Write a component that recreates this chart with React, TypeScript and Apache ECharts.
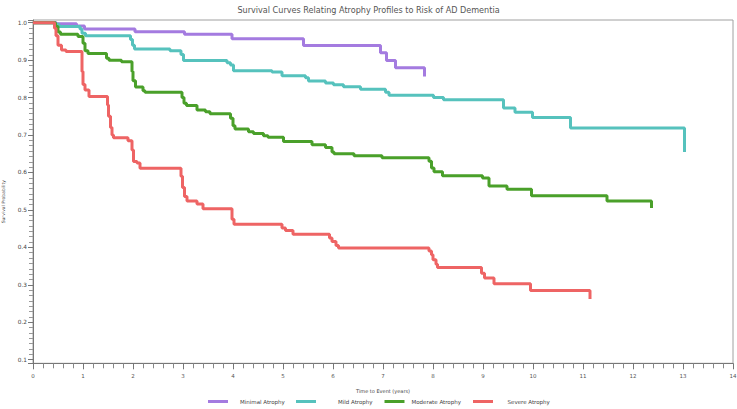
import React, { useEffect, useRef } from "react";
import * as echarts from "echarts";

const titleText = "Survival Curves Relating Atrophy Profiles to Risk of AD Dementia";
const seriesNames = ["Minimal Atrophy", "Mild Atrophy", "Moderate Atrophy", "Severe Atrophy"];
const seriesColors = ["#a47be0", "#56c2bd", "#4aa02a", "#ee6464"];

const minimalT = [0, 0.47, 0.87, 1.03, 2.04, 3.03, 3.98, 5.41, 6.95, 7.07, 7.25, 7.83];
const minimalS = [1, 0.997, 0.991, 0.983, 0.976, 0.969, 0.957, 0.939, 0.92, 0.899, 0.88, 0.856];

const mildT = [0, 0.44, 0.52, 0.94, 0.98, 1.05, 1.95, 1.99, 2.03, 2.74, 2.96, 3.01, 3.88, 3.95, 4.01, 4.78, 4.98, 5.45, 5.51, 5.85, 6.01, 6.21, 6.55, 7.05, 7.12, 8.01, 8.21, 9.41, 9.64, 9.99, 10.75, 13.03];
const mildS = [1, 0.996, 0.99, 0.983, 0.972, 0.965, 0.955, 0.94, 0.93, 0.925, 0.915, 0.899, 0.893, 0.887, 0.872, 0.868, 0.858, 0.853, 0.844, 0.839, 0.834, 0.829, 0.822, 0.814, 0.806, 0.8, 0.794, 0.772, 0.761, 0.747, 0.719, 0.655];

const moderateT = [0, 0.45, 0.5, 0.55, 0.9, 1.0, 1.04, 1.1, 1.47, 1.52, 1.77, 1.98, 2.0, 2.05, 2.2, 2.24, 2.98, 3.02, 3.07, 3.28, 3.45, 3.54, 3.95, 4.0, 4.04, 4.31, 4.41, 4.61, 4.7, 5.01, 5.58, 5.85, 5.98, 6.02, 6.42, 6.98, 7.92, 7.97, 8.02, 8.19, 8.99, 9.12, 9.48, 9.97, 11.48, 12.37];
const moderateS = [1, 0.99, 0.975, 0.969, 0.963, 0.945, 0.925, 0.918, 0.905, 0.9, 0.896, 0.87, 0.845, 0.828, 0.818, 0.814, 0.8, 0.785, 0.779, 0.767, 0.762, 0.757, 0.745, 0.725, 0.716, 0.709, 0.704, 0.698, 0.694, 0.683, 0.674, 0.667, 0.655, 0.65, 0.645, 0.639, 0.63, 0.612, 0.602, 0.591, 0.585, 0.564, 0.555, 0.538, 0.524, 0.505];

const severeT = [0, 0.43, 0.46, 0.5, 0.57, 0.66, 0.98, 1.0, 1.04, 1.12, 1.49, 1.51, 1.55, 1.58, 1.61, 1.9, 1.98, 2.01, 2.08, 2.14, 2.96, 2.99, 3.03, 3.08, 3.28, 3.4, 3.98, 4.02, 4.98, 5.05, 5.2, 5.93, 5.98, 6.06, 6.11, 7.92, 7.97, 8.0, 8.06, 8.09, 8.97, 9.03, 9.22, 9.95, 11.14];
const severeS = [1, 0.985, 0.965, 0.94, 0.927, 0.923, 0.87, 0.835, 0.82, 0.803, 0.78, 0.75, 0.72, 0.7, 0.693, 0.685, 0.66, 0.629, 0.625, 0.611, 0.59, 0.56, 0.536, 0.524, 0.516, 0.503, 0.475, 0.462, 0.452, 0.445, 0.435, 0.425, 0.416, 0.405, 0.398, 0.39, 0.38, 0.367, 0.355, 0.346, 0.331, 0.318, 0.303, 0.285, 0.262];

const allT = [minimalT, mildT, moderateT, severeT];
const allS = [minimalS, mildS, moderateS, severeS];

const legendLeft = [208, 296, 384.5, 473];
const legendTextGap = [7, 17, 2, 9.5];

const FONT = "DejaVu Sans";

export default function App() {
  const ref = useRef<HTMLDivElement>(null);
  useEffect(() => {
    if (!ref.current) return;
    const chart = echarts.init(ref.current, null, { renderer: "svg" });
    const series = seriesNames.map((name, i) => ({
      name,
      type: "line",
      step: "end",
      showSymbol: false,
      symbol: "none",
      color: seriesColors[i],
      lineStyle: { width: 3, color: seriesColors[i] },
      data: allT[i].map((t, j) => [t, allS[i][j]]),
    }));
    chart.setOption({
      animation: false,
      textStyle: { fontFamily: FONT },
      title: {
        text: titleText,
        left: "center",
        top: 1,
        textStyle: { fontSize: 8.1, fontWeight: "normal", color: "#555", fontFamily: FONT },
      },
      legend: seriesNames.map((name, i) => ({
        data: [name],
        left: legendLeft[i],
        top: 398.5,
        icon: "rect",
        itemWidth: 20,
        itemHeight: 3,
        padding: 0,
        textStyle: { fontSize: 5.5, color: "#444", fontFamily: FONT, padding: [0, 0, 0, legendTextGap[i]] },
      })),
      grid: {
        left: 33,
        right: 4,
        top: 20,
        bottom: 45.7,
        show: true,
        borderColor: "#a0a0a0",
        borderWidth: 1,
        containLabel: false,
        outerBoundsMode: "none",
      },
      xAxis: {
        type: "value",
        min: 0,
        max: 14,
        interval: 1,
        name: "Time to Event (years)",
        nameLocation: "middle",
        nameGap: 25,
        nameTextStyle: { fontSize: 5, color: "#444" },
        axisLine: { show: true, lineStyle: { color: "#777", width: 1 } },
        axisTick: { show: true, length: 6, lineStyle: { color: "#777" } },
        minorTick: { show: true, splitNumber: 5, length: 5, lineStyle: { color: "#888" } },
        axisLabel: { fontSize: 5.5, color: "#555", margin: 10 },
        splitLine: { show: false },
      },
      yAxis: {
        type: "value",
        min: 0.0904,
        max: 1.0072,
        splitNumber: 9,
        name: "Survival Probability",
        nameLocation: "middle",
        nameGap: 27,
        nameTextStyle: { fontSize: 4.5, color: "#444", padding: [0, 20, 0, 0] },
        axisLine: { show: true, lineStyle: { color: "#777", width: 1 } },
        axisTick: { show: true, length: 5, lineStyle: { color: "#777" } },
        minorTick: { show: true, splitNumber: 7, length: 4, lineStyle: { color: "#999" } },
        axisLabel: {
          fontSize: 5.8,
          color: "#444",
          margin: 6,
          showMinLabel: false,
          showMaxLabel: false,
          formatter: (v: number) => v.toFixed(1),
        },
        splitLine: { show: false },
      },
      series,
    });
    return () => chart.dispose();
  }, []);
  return <div ref={ref} style={{ width: 737, height: 409, position: "absolute", left: 0, top: 0 }} />;
}
